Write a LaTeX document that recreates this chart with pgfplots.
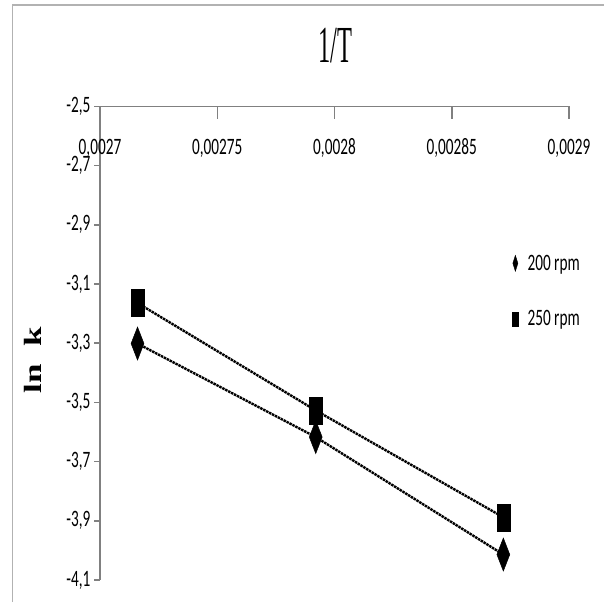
\documentclass[border=0pt]{standalone}
\usepackage{fontspec}
\usepackage{graphicx}
\usepackage{pgfplots}
\pgfplotsset{compat=1.18}
\setmainfont{Carlito}[FakeStretch=0.65]
\newfontfamily\titlefont{Liberation Serif}[FakeStretch=0.47]
\newfontfamily\labfont{Liberation Serif}

\pgfplotsset{
  frame/.style={
    at={(100pt,22pt)}, anchor=south west,
    scale only axis, width=469pt, height=473.5pt,
    xmin=0.0027, xmax=0.0029, ymin=-4.1, ymax=-2.5,
    tick style={gray, line width=1.5pt},
    every tick label/.append style={font=\fontsize{23.5}{26}\selectfont},
  },
}

\begin{document}
\begin{tikzpicture}
\path[use as bounding box] (0,0) rectangle (604pt,602pt);
\draw[gray!60, line width=1.5pt] (12.5pt,0) -- (12.5pt,597pt) -- (604pt,597pt);

% y axis ticks: short, outside
\begin{axis}[
  frame,
  axis x line=none, axis y line=left,
  axis line style={-, draw=none},
  ytick={-4.1,-3.9,-3.7,-3.5,-3.3,-3.1,-2.9,-2.7,-2.5},
  tick align=outside, major tick length=6pt,
  yticklabel style={/pgf/number format/fixed, /pgf/number format/precision=1,
    /pgf/number format/use comma, /pgf/number format/assume math mode=true},
]
\end{axis}

% main axis: x axis on top, ticks inside, data
\begin{axis}[
  frame,
  axis x line=top, axis y line=left,
  axis line style={-, draw=gray, line width=1.5pt},
  xtick={0.0027,0.00275,0.0028,0.00285,0.0029},
  ytick=\empty,
  scaled x ticks=false,
  tick align=inside, major tick length=13pt,
  xticklabel style={/pgf/number format/fixed, /pgf/number format/precision=5,
    /pgf/number format/use comma, /pgf/number format/assume math mode=true},
  x tick label style={anchor=center, yshift=-41.5pt},
  title={\titlefont 1/T},
  title style={at={(axis description cs:0.501,1.117)}, anchor=center, font=\fontsize{52}{56}\selectfont},
  ylabel={\scalebox{1}[0.71]{\labfont\bfseries\fontsize{35}{35}\selectfont ln\hspace{18pt}k}},
  ylabel style={at={(axis description cs:-0.1429,0.4646)}, anchor=center},
  legend style={at={(axis description cs:0.952,0.610)}, anchor=center, draw=none, fill=none,
    row sep=37pt, font=\fontsize{23.5}{26}\selectfont, nodes={inner sep=1pt}},
  legend cell align=left,
  legend image code/.code={\draw[#1] plot coordinates {(0pt,0pt)};},
  /tikz/every odd column/.append style={column sep=8pt},
]
\addlegendimage{only marks, mark=diamond*, mark size=8pt, mark options={xscale=0.42, black}}
\addlegendentry{200 rpm}
\addlegendimage{only marks, mark=square*, mark size=7pt, mark options={xscale=0.45, black}}
\addlegendentry{250 rpm}

% 200 rpm
\addplot[forget plot, black, line width=2.4pt, dash pattern=on 2.5pt off 0.8pt,
  mark=diamond*, mark size=16.5pt, mark options={solid, xscale=0.52, line width=0.5pt}]
  coordinates {(0.002716,-3.301) (0.002792,-3.617) (0.002872,-4.014)};

% 250 rpm
\addplot[forget plot, black, line width=2.4pt, dash pattern=on 2.5pt off 0.8pt,
  mark=square*, mark size=13.5pt, mark options={solid, xscale=0.48, line width=0.5pt}]
  coordinates {(0.002716,-3.164) (0.002792,-3.527) (0.002872,-3.888)};
\end{axis}
\end{tikzpicture}
\end{document}
